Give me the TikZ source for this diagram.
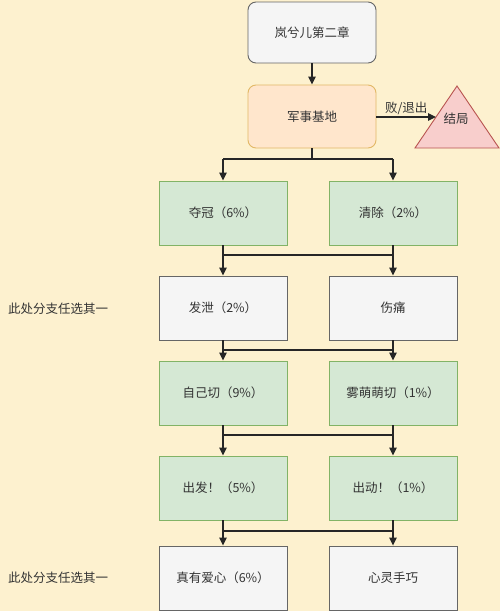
\documentclass[tikz,border=0pt]{standalone}
\usepackage{fontspec}
\setmainfont{Noto Sans CJK SC}
\usetikzlibrary{arrows.meta}
\definecolor{bgc}{HTML}{FDF1CF}
\definecolor{grayfill}{HTML}{F5F5F5}
\definecolor{graystroke}{HTML}{666666}
\definecolor{greenfill}{HTML}{D5E8D4}
\definecolor{greenstroke}{HTML}{82B366}
\definecolor{orangefill}{HTML}{FFE6CC}
\definecolor{orangestroke}{HTML}{E2B866}
\definecolor{redfill}{HTML}{F8CECC}
\definecolor{redstroke}{HTML}{B85450}
\definecolor{txt}{HTML}{333333}
\begin{document}
\begin{tikzpicture}[x=1pt,y=-1pt,
  every node/.style={font=\fontsize{12.5}{15}\selectfont, text=txt},
  box/.style={draw, line width=0.9pt, minimum width=128pt, minimum height=64pt, inner sep=0pt},
  graybox/.style={box, fill=grayfill, draw=graystroke},
  greenbox/.style={box, fill=greenfill, draw=greenstroke},
  conn/.style={draw=black!85, line width=1.2pt},
  arr/.style={conn, -{Triangle[length=8pt,width=7.5pt]}},
  note/.style={anchor=west, inner sep=0pt}
]
\fill[bgc] (0,0) rectangle (500,611);
\useasboundingbox (0,0) rectangle (500,611);

\node[graybox, rounded corners=8pt, minimum height=61pt] (start) at (312,32.5) {岚兮儿第二章};
\node[box, rounded corners=8pt, fill=orangefill, draw=orangestroke, minimum height=63pt] (base) at (312,116.5) {军事基地};

% triangle
\coordinate (tA) at (457,86);
\coordinate (tL) at (415,148);
\coordinate (tR) at (499,148);
\filldraw[fill=redfill, draw=redstroke, line width=0.9pt] (tA) -- (tR) -- (tL) -- cycle;
\node (endtxt) at (456,119) {结局};
\coordinate (tEdge) at (436,117);

\draw[arr] (start.south) -- (base.north);
\draw[arr] (base.east |- tEdge) -- node[above=1pt, inner sep=1pt] (quit) {败/退出} (tEdge);

% rows
\node[greenbox] (r2L) at (223,213) {夺冠（6\%）};
\node[greenbox] (r2R) at (393,213) {清除（2\%）};
\node[graybox] (r3L) at (223,308) {发泄（2\%）};
\node[graybox] (r3R) at (393,308) {伤痛};
\node[greenbox] (r4L) at (223,393) {自己切（9\%）};
\node[greenbox] (r4R) at (393,393) {雾萌萌切（1\%）};
\node[greenbox] (r5L) at (223,488) {出发！（5\%）};
\node[greenbox] (r5R) at (393,488) {出动！（1\%）};
\node[graybox] (r6L) at (223,578) {真有爱心（6\%）};
\node[graybox] (r6R) at (393,578) {心灵手巧};

\node[note] (note1) at (8,309) {此处分支任选其一};
\node[note] (note2) at (8,578) {此处分支任选其一};

% junctions
\coordinate (h1M) at (312,159);
\coordinate (h1L) at (223,159);
\coordinate (h1R) at (393,159);
\draw[conn] (base.south) -- (h1M);
\draw[conn] (h1L) -- (h1R);
\draw[arr] (h1L) -- (r2L.north);
\draw[arr] (h1R) -- (r2R.north);

\coordinate (h2L) at (223,255);
\coordinate (h2R) at (393,255);
\draw[conn] (r2L.south) -- (h2L);
\draw[conn] (r2R.south) -- (h2R);
\draw[conn] (h2L) -- (h2R);
\draw[arr] (h2L) -- (r3L.north);
\draw[arr] (h2R) -- (r3R.north);

\coordinate (h3L) at (223,350);
\coordinate (h3R) at (393,350);
\draw[conn] (r3L.south) -- (h3L);
\draw[conn] (r3R.south) -- (h3R);
\draw[conn] (h3L) -- (h3R);
\draw[arr] (h3L) -- (r4L.north);
\draw[arr] (h3R) -- (r4R.north);

\coordinate (h4L) at (223,435);
\coordinate (h4R) at (393,435);
\draw[conn] (r4L.south) -- (h4L);
\draw[conn] (r4R.south) -- (h4R);
\draw[conn] (h4L) -- (h4R);
\draw[arr] (h4L) -- (r5L.north);
\draw[arr] (h4R) -- (r5R.north);

\coordinate (h5L) at (223,531);
\coordinate (h5R) at (393,531);
\draw[conn] (r5L.south) -- (h5L);
\draw[conn] (r5R.south) -- (h5R);
\draw[conn] (h5L) -- (h5R);
\draw[arr] (h5L) -- (r6L.north);
\draw[arr] (h5R) -- (r6R.north);
\end{tikzpicture}
\end{document}
